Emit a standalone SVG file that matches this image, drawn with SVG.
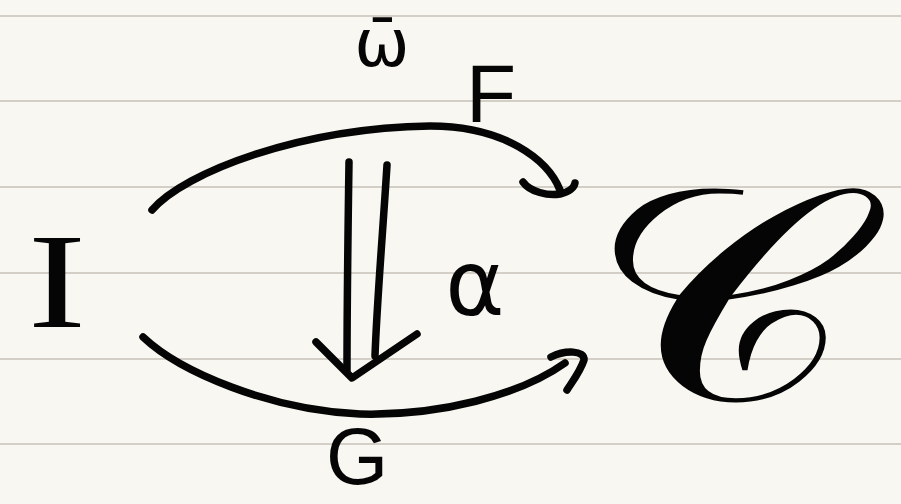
<svg xmlns="http://www.w3.org/2000/svg" width="901" height="504" viewBox="0 0 901 504">
  <style>
    .rule { stroke: #d3cec6; stroke-width: 2; }
    .ink { fill: none; stroke: #050505; stroke-width: 7.5; stroke-linecap: round; stroke-linejoin: round; }
    .lbl { fill: #050505; }
  </style>
  <rect width="901" height="504" fill="#f9f7f2"/>
  <g id="paper-lines">
    <line class="rule" x1="0" y1="16" x2="901" y2="16"/>
    <line class="rule" x1="0" y1="101" x2="901" y2="101"/>
    <line class="rule" x1="0" y1="187" x2="901" y2="187"/>
    <line class="rule" x1="0" y1="273" x2="901" y2="273"/>
    <line class="rule" x1="0" y1="359" x2="901" y2="359"/>
    <line class="rule" x1="0" y1="444" x2="901" y2="444"/>
  </g>
  <g id="connectors">
    <g id="arrow-F">
      <path class="ink" d="M152,210 C185,172 300,128 430,126 C505,126 548,160 560,190"/>
      <path class="ink" d="M523,182 C530,192 548,196 560,194 C568,192 574,189 575,183"/>
    </g>
    <g id="arrow-G">
      <path class="ink" d="M143,337 C180,372 270,410 360,414 C440,416 520,395 565,363"/>
      <path class="ink" d="M551,357 C565,350 585,350 584,360 C580,372 572,382 567,390"/>
    </g>
    <g id="arrow-alpha">
      <path class="ink" d="M349,162 C348,230 347,300 347,370"/>
      <path class="ink" d="M387,165 C383,230 377,300 375,356"/>
      <path class="ink" d="M316,342 L352,378 L417,334"/>
    </g>
  </g>
  <g id="node-I">
    <text class="lbl" x="57" y="327" font-family="'Liberation Serif', serif" font-size="135" text-anchor="middle" transform="translate(57,0) scale(1.3,1) translate(-57,0)">I</text>
  </g>
  <g id="node-C">
    <text class="lbl" x="721" y="400" font-family="'DejaVu Sans', 'DejaVu Serif', 'Noto Sans', serif" font-size="300" text-anchor="middle" transform="translate(721,0) scale(1.22,1) translate(-721,0)">𝒞</text>
  </g>
  <g id="label-F">
    <text class="lbl" x="466" y="122" font-family="'Liberation Sans', sans-serif" font-size="82">F</text>
  </g>
  <g id="label-G">
    <text class="lbl" x="326" y="484" font-family="'Liberation Sans', sans-serif" font-size="80">G</text>
  </g>
  <g id="label-alpha">
    <text class="lbl" x="475" y="315" font-family="'DejaVu Sans', sans-serif" font-size="90" text-anchor="middle">α</text>
  </g>
  <g id="label-omega">
    <text class="lbl" x="382" y="66" font-family="'DejaVu Sans', sans-serif" font-size="66" text-anchor="middle">ω̄</text>
  </g>
</svg>
